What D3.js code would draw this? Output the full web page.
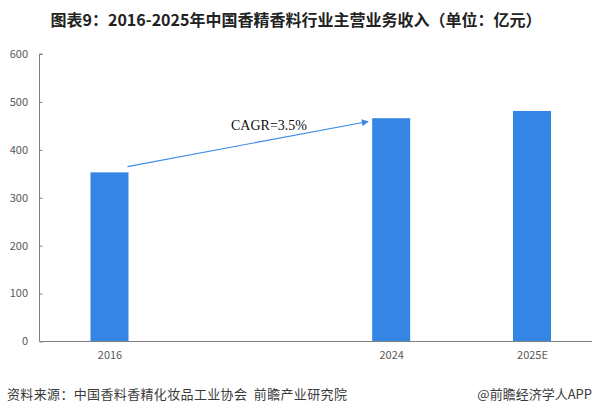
<!DOCTYPE html>
<html><head><meta charset="utf-8">
<script src="https://cdn.jsdelivr.net/npm/d3@7/dist/d3.min.js"></script>
<style>
html,body{margin:0;padding:0;background:#fff;}
svg{display:block;}
</style></head>
<body>
<script>
const categories = ["2016", "gap", "2024", "2025E"];
const barCats = ["2016", "2024", "2025E"];
const values = [353, 466, 481];
const yTicks = [0, 100, 200, 300, 400, 500, 600];
const titleText = "图表9：2016-2025年中国香精香料行业主营业务收入（单位：亿元）";
const sourceText = "资料来源：中国香料香精化妆品工业协会  前瞻产业研究院";
const brandText = "@前瞻经济学人APP";
const cagrText = "CAGR=3.5%";
const arrowFrom = 365, arrowTo = 459;

const W = 593, H = 411;
const svg = d3.select("body").append("svg").attr("width", W).attr("height", H);
const sans = "'Microsoft YaHei','Noto Sans CJK SC',sans-serif";

const axisLeft = 39.5, axisRight = 592, y0 = 341.5, yTop = 54;
const x = d3.scalePoint().domain(categories).range([109.5, 532]);
const y = d3.scaleLinear().domain([0, 600]).range([y0, yTop]);
const bw = 38;

// title
svg.append("text").attr("x", 296).attr("y", 26).attr("text-anchor", "middle")
  .attr("font-family", sans).attr("font-weight", "bold").attr("font-size", 16)
  .attr("fill", "#222").text(titleText);

// bars
svg.append("g").selectAll("rect").data(barCats).join("rect")
  .attr("x", d => x(d) - bw / 2).attr("width", bw)
  .attr("y", (d, i) => y(values[i])).attr("height", (d, i) => y0 - y(values[i]))
  .attr("fill", "#3585e5");

// y axis
const ya = svg.append("g").attr("transform", `translate(${axisLeft},0)`)
  .call(d3.axisRight(y).tickValues(yTicks).tickSize(3).tickFormat(""));
ya.select(".domain").attr("d", `M3,${yTop}H0V${y0}`).attr("stroke", "#808080");
ya.selectAll(".tick line").attr("stroke", "#808080");
svg.append("g").selectAll("text").data(yTicks).join("text")
  .attr("x", 28).attr("y", d => y(d)).attr("dy", "0.35em").attr("text-anchor", "end")
  .attr("font-family", sans).attr("font-size", 11).attr("fill", "#595959").text(d => d);

// x axis
const xa = svg.append("g").attr("transform", `translate(0,${y0})`)
  .call(d3.axisBottom(x).tickValues(barCats).tickSize(0).tickPadding(10));
xa.select(".domain").attr("d", `M${axisLeft},0H${axisRight}`).attr("stroke", "#808080");
xa.selectAll(".tick text").attr("font-family", sans).attr("font-size", 11).attr("fill", "#595959");

// arrow annotation
const defs = svg.append("defs");
defs.append("marker").attr("id", "ah").attr("viewBox", "0 0 10 10").attr("refX", 9).attr("refY", 5)
  .attr("markerWidth", 9).attr("markerHeight", 7).attr("markerUnits", "userSpaceOnUse").attr("orient", "auto")
  .append("path").attr("d", "M0,0L10,5L0,10Z").attr("fill", "#3f8ae6");
const x1 = x("2016") + bw / 2 - 1, x2 = x("2024") - bw / 2 - 4;
svg.append("line").attr("x1", x1).attr("y1", y(arrowFrom)).attr("x2", x2).attr("y2", y(arrowTo))
  .attr("stroke", "#3f8ae6").attr("stroke-width", 1.1).attr("marker-end", "url(#ah)");
svg.append("text").attr("x", 231).attr("y", 130)
  .attr("font-family", "'Times New Roman','Liberation Serif',serif").attr("font-size", 14)
  .attr("fill", "#111").text(cagrText);

// footer
svg.append("text").attr("x", 7).attr("y", 399).attr("font-family", sans).attr("font-size", 13)
  .attr("letter-spacing", 0.35).attr("fill", "#3a3a3a").attr("xml:space", "preserve").text(sourceText);
svg.append("text").attr("x", 592).attr("y", 399).attr("text-anchor", "end").attr("font-family", sans)
  .attr("font-size", 13).attr("fill", "#3a3a3a").text(brandText);
</script>
</body></html>
